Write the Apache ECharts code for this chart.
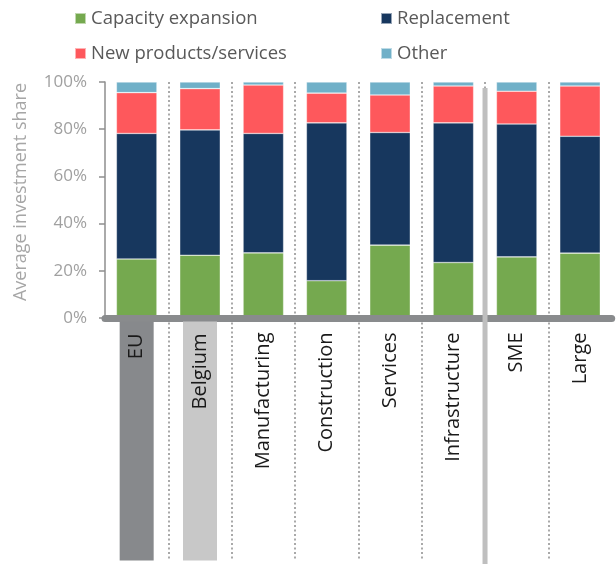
<!DOCTYPE html>
<html>
<head>
<meta charset="utf-8">
<script src="https://cdn.jsdelivr.net/npm/echarts@6/dist/echarts.min.js"></script>
<style>
html,body{margin:0;padding:0;background:#fff;}
#main{width:616px;height:564px;}
</style>
</head>
<body>
<div id="main"></div>
<script>
var categories = ['EU', 'Belgium', 'Manufacturing', 'Construction', 'Services', 'Infrastructure', 'SME', 'Large'];
var capacityExpansion = [25.0, 26.6, 27.6, 15.8, 30.9, 23.5, 25.9, 27.5];
var replacement       = [53.2, 53.1, 50.6, 66.9, 47.7, 59.2, 56.3, 49.5];
var newProducts       = [17.3, 17.5, 20.5, 12.6, 15.9, 15.6, 13.9, 21.3];
var other             = [4.5, 2.8, 1.3, 4.7, 5.5, 1.7, 3.9, 1.7];
var yTicks = [0, 20, 40, 60, 80, 100];

var FONT = 'Open Sans';
var chart = echarts.init(document.getElementById('main'), null, {renderer: 'canvas'});

function barSeries(name, data, color) {
  return {
    name: name, type: 'bar', stack: 'total', data: data,
    xAxisIndex: 0, yAxisIndex: 0,
    barWidth: '64%',
    itemStyle: {color: color, borderColor: 'rgba(255,255,255,0.55)', borderWidth: 0.6},
    emphasis: {disabled: true}
  };
}

var dotted = {color: '#a9a9a9', type: [2, 2.5], width: 2};

var option = {
  animation: false,
  textStyle: {fontFamily: FONT},
  legend: [
    {
      data: ['Capacity expansion', 'New products/services'],
      orient: 'vertical', left: 69, top: 1, itemGap: 10,
      itemWidth: 11, itemHeight: 11, icon: 'rect',
      textStyle: {fontSize: 18.5, lineHeight: 25, color: '#595959', fontFamily: FONT}
    },
    {
      data: ['Replacement', 'Other'],
      orient: 'vertical', left: 375, top: 1, itemGap: 10,
      itemWidth: 11, itemHeight: 11, icon: 'rect',
      textStyle: {fontSize: 18.5, lineHeight: 25, color: '#595959', fontFamily: FONT}
    }
  ],
  grid: [
    {left: 105, right: 4.3, top: 82, height: 236, outerBoundsMode: 'none', containLabel: false},
    {left: 105, right: 4.3, top: 318, bottom: 4, outerBoundsMode: 'none', containLabel: false}
  ],
  xAxis: [
    {
      type: 'category', data: categories, gridIndex: 0, z: 5,
      axisLine: {show: true, lineStyle: {color: '#898b8d', width: 7}},
      axisTick: {show: false},
      splitLine: {show: true, interval: 0, showMinLine: false, showMaxLine: false, lineStyle: dotted},
      axisLabel: {
        interval: 0, rotate: 90, margin: 3.5,
        color: '#1a1a1a', fontSize: 20, fontFamily: FONT,
        formatter: function (v) {
          if (v === 'EU') return '{eu|' + v + '}';
          if (v === 'Belgium') return '{be|' + v + '}';
          return '{n|' + v + '}';
        },
        rich: {
          n: {padding: [0, 11, 0, 0], fontSize: 20, color: '#1a1a1a'},
          eu: {backgroundColor: '#87898c', width: 227, align: 'right', height: 34, lineHeight: 34,
               padding: [0, 12, 0, 0], fontSize: 20, color: '#1a1a1a'},
          be: {backgroundColor: '#c8c8c8', width: 227, align: 'right', height: 34, lineHeight: 34,
               padding: [0, 12, 0, 0], fontSize: 20, color: '#1a1a1a'}
        }
      }
    },
    {
      type: 'category', data: categories, gridIndex: 1,
      axisLine: {show: false}, axisTick: {show: false}, axisLabel: {show: false, interval: 0},
      splitLine: {show: true, interval: 0, showMinLine: false, showMaxLine: false, lineStyle: dotted}
    }
  ],
  yAxis: [
    {
      type: 'value', gridIndex: 0, min: 0, max: 100, interval: 20,
      name: 'Average investment share', nameLocation: 'middle', nameGap: 75, nameRotate: 90,
      nameTextStyle: {color: '#a6a6a6', fontSize: 18, fontFamily: FONT, padding: [0, 0, 0, 16]},
      axisLine: {show: true, lineStyle: {color: '#8e8e8e', width: 1.5}},
      axisTick: {show: true, length: 6, lineStyle: {color: '#8e8e8e', width: 1.5}},
      splitLine: {show: false},
      axisLabel: {
        margin: 18, color: '#a0a0a0', fontSize: 17, fontFamily: FONT,
        formatter: function (v) { return yTicks.indexOf(v) >= 0 ? v + '%' : ''; }
      }
    },
    {
      type: 'value', gridIndex: 1, min: 0, max: 1, show: false
    }
  ],
  series: [
    barSeries('Capacity expansion', capacityExpansion, '#75a94f'),
    barSeries('Replacement', replacement, '#17375e'),
    barSeries('New products/services', newProducts, '#fe585c'),
    barSeries('Other', other, '#70b0c8')
  ]
};
chart.setOption(option);

// thick separator between sector groups and firm-size groups
var xa = chart.convertToPixel({xAxisIndex: 0}, 'Infrastructure');
var xb = chart.convertToPixel({xAxisIndex: 0}, 'SME');
var sepX = (xa + xb) / 2;
var topY = chart.convertToPixel({yAxisIndex: 0}, 100) + 6;
chart.setOption({
  graphic: [{
    type: 'rect', z: 100,
    shape: {x: sepX - 2.5, y: topY, width: 5, height: chart.getHeight() - topY},
    style: {fill: '#bfbfbf'}
  }]
});
</script>
</body>
</html>
